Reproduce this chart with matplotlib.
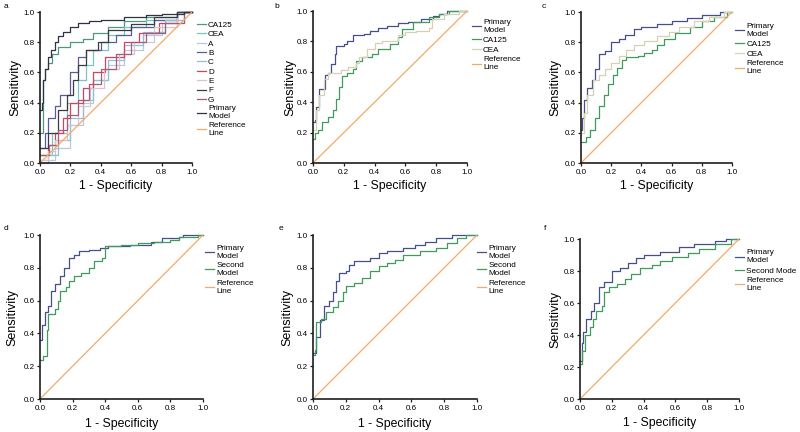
import matplotlib
matplotlib.use("Agg")
import matplotlib.pyplot as plt

plt.rcParams['font.family'] = ['Liberation Sans', 'DejaVu Sans']

# colours
c_primary = '#454f8c'
c_second = '#3f9b5c'
c_cea = '#d6d0b4'
c_ref = '#f2aa66'

# ---- panel a : ROC knots (1 - specificity, sensitivity)
a_ca125_x = [0, 0.02, 0.03, 0.05, 0.08, 0.12, 0.2, 0.28, 0.35, 0.45, 0.55, 0.7, 0.9, 1.0]
a_ca125_y = [0.2, 0.55, 0.62, 0.66, 0.72, 0.77, 0.8, 0.82, 0.86, 0.9, 0.94, 0.97, 1.0, 1.0]
a_cea_x = [0, 0.08, 0.18, 0.25, 0.3, 0.35, 0.45, 0.55, 0.7, 0.9, 1.0]
a_cea_y = [0.05, 0.2, 0.4, 0.55, 0.65, 0.75, 0.85, 0.9, 0.95, 1.0, 1.0]
a_A_x = [0, 0.1, 0.2, 0.28, 0.35, 0.45, 0.55, 0.68, 0.8, 0.95, 1.0]
a_A_y = [0.02, 0.1, 0.25, 0.4, 0.55, 0.65, 0.75, 0.85, 0.93, 1.0, 1.0]
a_B_x = [0, 0.03, 0.05, 0.1, 0.13, 0.2, 0.25, 0.3, 0.4, 0.5, 0.6, 0.75, 0.9, 1.0]
a_B_y = [0.1, 0.2, 0.3, 0.38, 0.45, 0.6, 0.7, 0.75, 0.8, 0.85, 0.9, 0.95, 1.0, 1.0]
a_C_x = [0, 0.05, 0.12, 0.2, 0.28, 0.35, 0.45, 0.55, 0.68, 0.82, 0.95, 1.0]
a_C_y = [0.0, 0.05, 0.15, 0.3, 0.42, 0.55, 0.68, 0.78, 0.87, 0.95, 1.0, 1.0]
a_D_x = [0, 0.05, 0.1, 0.15, 0.2, 0.28, 0.35, 0.43, 0.55, 0.65, 0.78, 0.9, 1.0]
a_D_y = [0.05, 0.12, 0.2, 0.3, 0.4, 0.5, 0.6, 0.7, 0.8, 0.86, 0.93, 1.0, 1.0]
a_E_x = [0, 0.05, 0.1, 0.18, 0.25, 0.33, 0.42, 0.52, 0.62, 0.75, 0.9, 1.0]
a_E_y = [0.02, 0.08, 0.15, 0.25, 0.38, 0.5, 0.62, 0.72, 0.8, 0.9, 1.0, 1.0]
a_F_x = [0, 0.05, 0.12, 0.18, 0.22, 0.25, 0.3, 0.38, 0.45, 0.6, 0.75, 0.9, 1.0]
a_F_y = [0.1, 0.2, 0.35, 0.45, 0.55, 0.65, 0.75, 0.8, 0.88, 0.92, 0.97, 1.0, 1.0]
a_G_x = [0, 0.06, 0.12, 0.18, 0.25, 0.32, 0.4, 0.5, 0.6, 0.7, 0.82, 0.95, 1.0]
a_G_y = [0.05, 0.12, 0.22, 0.32, 0.42, 0.52, 0.62, 0.72, 0.8, 0.86, 0.93, 1.0, 1.0]
a_pm_x = [0, 0.01, 0.02, 0.03, 0.05, 0.07, 0.1, 0.12, 0.15, 0.2, 0.25, 0.32, 0.4, 0.55, 0.7, 0.8, 0.95, 1.0]
a_pm_y = [0.35, 0.4, 0.55, 0.62, 0.7, 0.75, 0.8, 0.84, 0.87, 0.9, 0.93, 0.94, 0.95, 0.97, 0.98, 0.99, 1.0, 1.0]

# ---- panel b
b_pm_x = [0, 0.01, 0.02, 0.04, 0.08, 0.1, 0.12, 0.14, 0.15, 0.2, 0.22, 0.26, 0.33, 0.37, 0.42, 0.48, 0.55, 0.62, 0.7, 0.78, 0.82, 0.87, 1.0]
b_pm_y = [0.27, 0.28, 0.37, 0.49, 0.58, 0.59, 0.65, 0.72, 0.77, 0.78, 0.8, 0.84, 0.85, 0.87, 0.89, 0.9, 0.92, 0.93, 0.95, 0.97, 0.98, 1.0, 1.0]
b_ca_x = [0, 0.01, 0.03, 0.06, 0.1, 0.13, 0.15, 0.17, 0.19, 0.22, 0.26, 0.28, 0.32, 0.38, 0.42, 0.5, 0.55, 0.58, 0.65, 0.75, 0.82, 0.88, 1.0]
b_ca_y = [0.16, 0.2, 0.22, 0.27, 0.3, 0.35, 0.42, 0.5, 0.57, 0.59, 0.62, 0.67, 0.7, 0.72, 0.75, 0.78, 0.83, 0.88, 0.93, 0.96, 0.98, 1.0, 1.0]
b_cea_x = [0, 0.02, 0.04, 0.07, 0.1, 0.18, 0.23, 0.28, 0.3, 0.35, 0.4, 0.45, 0.55, 0.6, 0.67, 0.75, 0.77, 0.85, 0.95, 1.0]
b_cea_y = [0.22, 0.35, 0.45, 0.55, 0.59, 0.61, 0.63, 0.66, 0.7, 0.75, 0.79, 0.8, 0.84, 0.86, 0.87, 0.89, 0.95, 0.98, 1.0, 1.0]

# ---- panel c
c_pm_x = [0, 0.005, 0.02, 0.04, 0.07, 0.09, 0.12, 0.16, 0.2, 0.25, 0.29, 0.35, 0.4, 0.5, 0.6, 0.7, 0.8, 0.92, 1.0]
c_pm_y = [0.22, 0.3, 0.42, 0.5, 0.55, 0.62, 0.72, 0.74, 0.8, 0.82, 0.85, 0.89, 0.9, 0.92, 0.94, 0.96, 0.98, 1.0, 1.0]
c_ca_x = [0, 0.03, 0.06, 0.09, 0.12, 0.15, 0.18, 0.21, 0.24, 0.27, 0.3, 0.38, 0.42, 0.47, 0.5, 0.55, 0.62, 0.72, 0.8, 0.88, 0.97, 1.0]
c_ca_y = [0.14, 0.17, 0.22, 0.3, 0.38, 0.45, 0.52, 0.58, 0.63, 0.68, 0.7, 0.71, 0.73, 0.75, 0.78, 0.82, 0.86, 0.9, 0.94, 0.97, 1.0, 1.0]
c_cea_x = [0, 0.02, 0.04, 0.08, 0.12, 0.16, 0.2, 0.25, 0.3, 0.35, 0.42, 0.5, 0.58, 0.65, 0.75, 0.85, 0.95, 1.0]
c_cea_y = [0.2, 0.33, 0.45, 0.55, 0.58, 0.62, 0.66, 0.71, 0.75, 0.78, 0.81, 0.84, 0.87, 0.9, 0.94, 0.97, 1.0, 1.0]

# ---- panel d
d_pm_x = [0, 0.01, 0.03, 0.05, 0.07, 0.09, 0.12, 0.15, 0.18, 0.21, 0.24, 0.3, 0.37, 0.42, 0.55, 0.68, 0.75, 0.85, 0.88, 1.0]
d_pm_y = [0.36, 0.45, 0.53, 0.57, 0.66, 0.7, 0.75, 0.8, 0.86, 0.88, 0.9, 0.91, 0.92, 0.93, 0.94, 0.96, 0.98, 0.99, 1.0, 1.0]
d_sm_x = [0, 0.02, 0.04, 0.05, 0.09, 0.11, 0.12, 0.16, 0.18, 0.21, 0.25, 0.3, 0.33, 0.38, 0.4, 0.5, 0.6, 0.7, 0.8, 0.85, 0.97, 1.0]
d_sm_y = [0.24, 0.26, 0.42, 0.52, 0.55, 0.6, 0.66, 0.68, 0.72, 0.75, 0.77, 0.8, 0.84, 0.86, 0.93, 0.94, 0.95, 0.96, 0.97, 0.99, 1.0, 1.0]

# ---- panel e
e_pm_x = [0, 0.02, 0.04, 0.07, 0.1, 0.12, 0.14, 0.16, 0.2, 0.22, 0.25, 0.35, 0.4, 0.45, 0.55, 0.62, 0.68, 0.75, 0.85, 1.0]
e_pm_y = [0.28, 0.38, 0.48, 0.57, 0.6, 0.65, 0.72, 0.77, 0.78, 0.82, 0.84, 0.86, 0.89, 0.9, 0.92, 0.94, 0.96, 0.98, 1.0, 1.0]
e_sm_x = [0, 0.01, 0.02, 0.05, 0.08, 0.12, 0.15, 0.18, 0.2, 0.25, 0.3, 0.35, 0.4, 0.45, 0.5, 0.55, 0.65, 0.75, 0.82, 0.88, 0.93, 1.0]
e_sm_y = [0.27, 0.3, 0.47, 0.49, 0.53, 0.56, 0.6, 0.65, 0.69, 0.71, 0.74, 0.78, 0.81, 0.83, 0.85, 0.88, 0.9, 0.92, 0.95, 0.98, 1.0, 1.0]

# ---- panel f
f_pm_x = [0, 0.01, 0.02, 0.04, 0.07, 0.09, 0.12, 0.15, 0.2, 0.25, 0.3, 0.35, 0.4, 0.5, 0.62, 0.72, 0.85, 0.92, 1.0]
f_pm_y = [0.24, 0.35, 0.42, 0.5, 0.55, 0.6, 0.7, 0.73, 0.8, 0.82, 0.85, 0.88, 0.9, 0.92, 0.95, 0.97, 0.99, 1.0, 1.0]
f_sm_x = [0, 0.01, 0.03, 0.06, 0.08, 0.1, 0.14, 0.15, 0.18, 0.23, 0.28, 0.32, 0.38, 0.45, 0.5, 0.58, 0.68, 0.75, 0.85, 0.95, 1.0]
f_sm_y = [0.22, 0.3, 0.4, 0.45, 0.5, 0.55, 0.58, 0.67, 0.7, 0.72, 0.75, 0.78, 0.82, 0.84, 0.86, 0.89, 0.91, 0.94, 0.97, 1.0, 1.0]

ref_x = [0, 1]
ref_y = [0, 1]

ticks = [0.0, 0.2, 0.4, 0.6, 0.8, 1.0]
tick_labels = ['0.0', '0.2', '0.4', '0.6', '0.8', '1.0']

fig = plt.figure(figsize=(8, 4.32), dpi=100)


def style(ax):
    ax.set_xlim(0, 1)
    ax.set_ylim(0, 1)
    for s in ['top', 'right']:
        ax.spines[s].set_visible(False)
    for s in ['left', 'bottom']:
        ax.spines[s].set_linewidth(1.2)
        ax.spines[s].set_color('#1e1e1e')
    ax.set_xticks(ticks)
    ax.set_xticklabels(tick_labels)
    ax.set_yticks(ticks)
    ax.set_yticklabels(tick_labels)
    ax.tick_params(direction='out', length=2.5, width=0.9, pad=1.5,
                   labelsize=5.8, color='#1e1e1e')
    ax.set_xlabel('1 - Specificity', fontsize=8.8)
    ax.set_ylabel('Sensitivity', fontsize=9)


def roc(ax, x, y, color, label):
    # sensitivity jumps up at each knot, flat in between
    ax.step(x, y, where='post', color=color, lw=0.9, label=label, clip_on=False)


def legend(ax, bx, by, sp=0.3):
    ax.legend(loc='upper left', bbox_to_anchor=(bx, by), frameon=False,
              fontsize=5.9, handlelength=1.1, handletextpad=0.3,
              labelspacing=sp, borderaxespad=0, borderpad=0)


def panel_letter(x, y, t):
    fig.text(x / 800, 1 - y / 432, t, fontsize=6, va='center', ha='left')


# a
ax = fig.add_axes([40 / 800, 1 - 163 / 432, 152 / 800, 151 / 432])
style(ax)
roc(ax, a_ca125_x, a_ca125_y, '#4c9a78', 'CA125')
roc(ax, a_cea_x, a_cea_y, '#7cc4c4', 'CEA')
roc(ax, a_A_x, a_A_y, '#b9c9dc', 'A')
roc(ax, a_B_x, a_B_y, '#5a5a9e', 'B')
roc(ax, a_C_x, a_C_y, '#8cc0d8', 'C')
roc(ax, a_D_x, a_D_y, '#d2435a', 'D')
roc(ax, a_E_x, a_E_y, '#d9c4cc', 'E')
roc(ax, a_F_x, a_F_y, '#3a3a44', 'F')
roc(ax, a_G_x, a_G_y, '#a45c7c', 'G')
roc(ax, a_pm_x, a_pm_y, '#2e3444', 'Primary\nModel')
ax.plot(ref_x, ref_y, color=c_ref, lw=0.9, label='Reference\nLine')
legend(ax, 1.03, 0.94, sp=0.2)
ax.yaxis.set_label_coords(-0.125, 0.5)
ax.xaxis.set_label_coords(0.5, -0.115)
panel_letter(4, 6, 'a')

# b
ax = fig.add_axes([313 / 800, 1 - 163 / 432, 154 / 800, 152 / 432])
style(ax)
roc(ax, b_pm_x, b_pm_y, c_primary, 'Primary\nModel')
roc(ax, b_ca_x, b_ca_y, c_second, 'CA125')
roc(ax, b_cea_x, b_cea_y, c_cea, 'CEA')
ax.plot(ref_x, ref_y, color=c_ref, lw=0.9, label='Reference\nLine')
legend(ax, 1.03, 0.95)
ax.yaxis.set_label_coords(-0.11, 0.5)
ax.xaxis.set_label_coords(0.5, -0.115)
panel_letter(274, 6, 'b')

# c
ax = fig.add_axes([581 / 800, 1 - 163 / 432, 151 / 800, 151 / 432])
style(ax)
roc(ax, c_pm_x, c_pm_y, c_primary, 'Primary\nModel')
roc(ax, c_ca_x, c_ca_y, c_second, 'CA125')
roc(ax, c_cea_x, c_cea_y, c_cea, 'CEA')
ax.plot(ref_x, ref_y, color=c_ref, lw=0.9, label='Reference\nLine')
legend(ax, 1.02, 0.93)
ax.yaxis.set_label_coords(-0.13, 0.5)
ax.xaxis.set_label_coords(0.5, -0.115)
panel_letter(542, 6, 'c')

# d
ax = fig.add_axes([40 / 800, 1 - 399 / 432, 163 / 800, 164 / 432])
style(ax)
roc(ax, d_pm_x, d_pm_y, c_primary, 'Primary\nModel')
roc(ax, d_sm_x, d_sm_y, c_second, 'Second\nModel')
ax.plot(ref_x, ref_y, color=c_ref, lw=0.9, label='Reference\nLine')
legend(ax, 1.01, 0.94)
ax.yaxis.set_label_coords(-0.13, 0.5)
ax.xaxis.set_label_coords(0.5, -0.115)
panel_letter(4, 228, 'd')

# e
ax = fig.add_axes([313 / 800, 1 - 399 / 432, 164 / 800, 164 / 432])
style(ax)
roc(ax, e_pm_x, e_pm_y, c_primary, 'Primary\nModel')
roc(ax, e_sm_x, e_sm_y, c_second, 'Second\nModel')
ax.plot(ref_x, ref_y, color=c_ref, lw=0.9, label='Reference\nLine')
legend(ax, 1.0, 0.94)
ax.yaxis.set_label_coords(-0.12, 0.5)
ax.xaxis.set_label_coords(0.5, -0.115)
panel_letter(279, 228, 'e')

# f
ax = fig.add_axes([580 / 800, 1 - 399 / 432, 159 / 800, 160 / 432])
style(ax)
roc(ax, f_pm_x, f_pm_y, c_primary, 'Primary\nModel')
roc(ax, f_sm_x, f_sm_y, c_second, 'Second Mode')
ax.plot(ref_x, ref_y, color=c_ref, lw=0.9, label='Reference\nLine')
legend(ax, 0.975, 0.935)
ax.yaxis.set_label_coords(-0.12, 0.5)
ax.xaxis.set_label_coords(0.5, -0.115)
panel_letter(544, 228, 'f')

fig.savefig('out.png', dpi=100)
